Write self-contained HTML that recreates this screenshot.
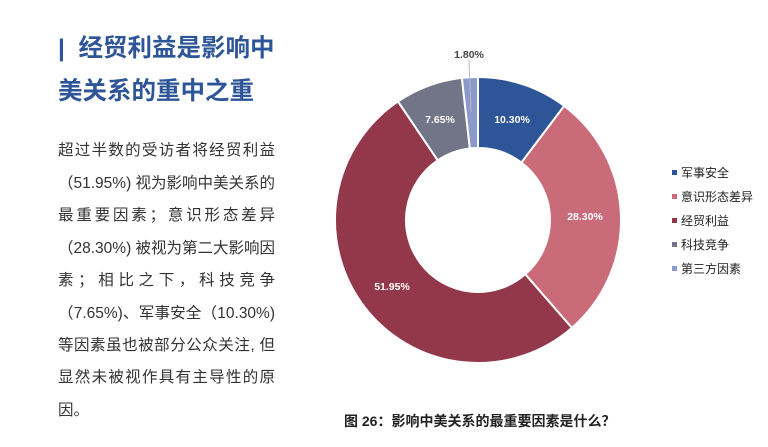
<!DOCTYPE html>
<html><head><meta charset="utf-8"><style>
body{margin:0;width:768px;height:447px;background:#fff;position:relative;overflow:hidden;font-family:"Liberation Sans","Noto Sans CJK SC",sans-serif}
.t{position:absolute;left:58px;color:#2E5597;font-weight:bold;font-size:24.5px;line-height:30px;white-space:nowrap}
.l{position:absolute;left:58px;width:217px;font-size:15.5px;color:#333;text-align:justify;text-align-last:justify;white-space:nowrap;line-height:20px}
.lg{position:absolute;left:672px;font-size:12px;color:#222;line-height:14px;white-space:nowrap}
.lg i{display:inline-block;width:5px;height:5px;margin-right:4px;vertical-align:2px}
</style></head><body>
<div class="t" style="top:34px">|&nbsp;&nbsp;经贸利益是影响中</div>
<div class="t" style="top:77px">美关系的重中之重</div>
<div class="l" style="top:141px">超过半数的受访者将经贸利益</div>
<div class="l" style="top:174px">（51.95%) 视为影响中美关系的</div>
<div class="l" style="top:206px">最重要因素；意识形态差异</div>
<div class="l" style="top:239px">（28.30%) 被视为第二大影响因</div>
<div class="l" style="top:271px">素；相比之下，科技竞争</div>
<div class="l" style="top:304px">（7.65%)、军事安全（10.30%)</div>
<div class="l" style="top:336px">等因素虽也被部分公众关注, 但</div>
<div class="l" style="top:368px">显然未被视作具有主导性的原</div>
<div class="l" style="top:401px;text-align-last:left">因。</div>
<svg id="s" width="768" height="447" style="position:absolute;left:0;top:0"></svg>
<div class="lg" style="top:166px"><i style="background:#2E5597"></i>军事安全</div>
<div class="lg" style="top:190px"><i style="background:#C96B78"></i>意识形态差异</div>
<div class="lg" style="top:214px"><i style="background:#93384A"></i>经贸利益</div>
<div class="lg" style="top:238px"><i style="background:#727487"></i>科技竞争</div>
<div class="lg" style="top:262px"><i style="background:#8B9ACB"></i>第三方因素</div>
<div style="position:absolute;left:344px;top:411px;font-size:14px;font-weight:bold;color:#222;white-space:nowrap">图 26：影响中美关系的最重要因素是什么？</div>
<script>
var s=document.getElementById('s'),cx=478,cy=220,R=143,r=72;
var d=[[10.30,'#2E5597'],[28.30,'#C96B78'],[51.95,'#93384A'],[7.65,'#727487'],[1.80,'#8B9ACB']];
var tot=100,a=0,h='';
function p(ang,rad){return [cx+rad*Math.sin(ang),cy-rad*Math.cos(ang)];}
d.forEach(function(e){var a1=a+e[0]/tot*2*Math.PI;var L=(a1-a)>Math.PI?1:0;
var A=p(a,R),B=p(a1,R),C=p(a1,r),D=p(a,r);
h+='<path d="M'+A+' A'+R+','+R+' 0 '+L+' 1 '+B+' L'+C+' A'+r+','+r+' 0 '+L+' 0 '+D+'Z" fill="'+e[1]+'" stroke="#fff" stroke-width="2"/>';a=a1;});
h+='<line x1="469" y1="60" x2="471" y2="112" stroke="#bbb" stroke-width="1"/>';
var t=[['1.80%',469,58,'#444'],['10.30%',512,123,'#fff'],['7.65%',440,123,'#fff'],['28.30%',585,220,'#fff'],['51.95%',392,290,'#fff']];
t.forEach(function(e){h+='<text x="'+e[1]+'" y="'+e[2]+'" fill="'+e[3]+'" font-size="10.5" font-weight="bold" text-anchor="middle" font-family="Liberation Sans,sans-serif">'+e[0]+'</text>';});
s.innerHTML=h;
</script>
</body></html>
